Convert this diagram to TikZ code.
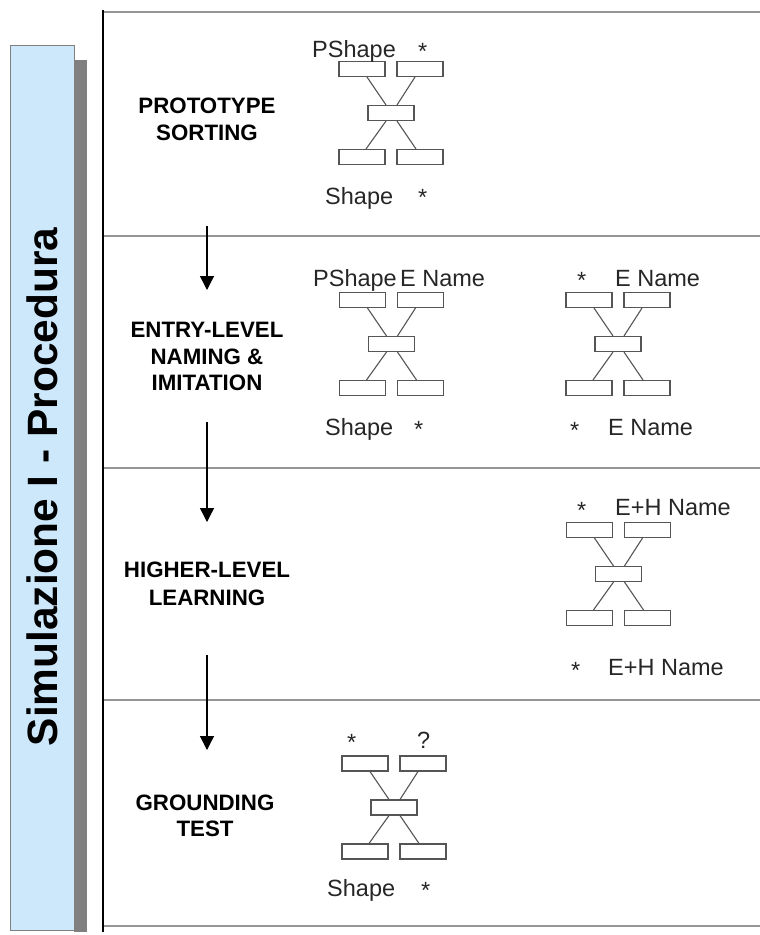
\documentclass[tikz,border=0pt]{standalone}
\usepackage{fontspec}
\setmainfont{Liberation Sans}
\usetikzlibrary{arrows.meta}
\definecolor{panelblue}{RGB}{204,232,250}
\definecolor{shadowgray}{RGB}{128,128,128}
\definecolor{ruleg}{RGB}{150,150,150}
\definecolor{boxg}{RGB}{85,85,85}
\newcommand{\xnet}[3]{%
  \node[cell] (#1tl) at (#2-29,#3) {};
  \node[cell] (#1tr) at (#2+29,#3) {};
  \node[cell] (#1c)  at (#2,#3+44) {};
  \node[cell] (#1bl) at (#2-29,#3+88) {};
  \node[cell] (#1br) at (#2+29,#3+88) {};
  \draw[link] ([xshift=5pt]#1tl.south) -- ([xshift=-5pt]#1c.north);
  \draw[link] ([xshift=-5pt]#1tr.south) -- ([xshift=6pt]#1c.north);
  \draw[link] ([xshift=-5pt]#1c.south) -- ([xshift=4pt]#1bl.north);
  \draw[link] ([xshift=6pt]#1c.south) -- ([xshift=-4pt]#1br.north);
}
\begin{document}
\begin{tikzpicture}[x=1pt,y=-1pt,
  cell/.style={draw=boxg, line width=1.1pt, minimum width=46pt, minimum height=15pt, inner sep=0pt},
  link/.style={draw=boxg, line width=1.1pt},
  lbl/.style={font=\fontsize{23.5}{28}\selectfont, inner sep=0pt, anchor=base west, text=black!85},
  stage/.style={font=\fontsize{22.3}{26}\bfseries\selectfont, inner sep=0pt, anchor=base},
  flow/.style={line width=1.3pt, -{Triangle[width=14pt,length=14pt]}},
  rule/.style={draw=ruleg, line width=2pt}]
\useasboundingbox (0,0) rectangle (760,935);

% title panel
\fill[shadowgray] (74,60) rectangle (87,932);
\draw[fill=panelblue, draw=gray, line width=0.8pt] (10,45) rectangle (74,930);
\node[rotate=90, font=\fontsize{42.4}{50}\bfseries\selectfont, inner sep=0pt] (title) at (42.5,487) {Simulazione I - Procedura};

% frame
\draw[rule] (103,12) -- (760,12);
\draw[rule] (103,236) -- (760,236);
\draw[rule] (103,468) -- (760,468);
\draw[rule] (103,700) -- (760,700);
\draw[rule] (103,926) -- (760,926);
\draw[black, line width=1.5pt] (103,10) -- (103,932);

% stage labels
\node[stage] (s1a) at (207,113) {PROTOTYPE};
\node[stage] (s1b) at (207,140.5) {SORTING};
\node[stage] (s2a) at (207,337) {ENTRY-LEVEL};
\node[stage] (s2b) at (207,364.5) {NAMING \&};
\node[stage] (s2c) at (207,390) {IMITATION};
\node[stage] (s3a) at (207,577) {HIGHER-LEVEL};
\node[stage] (s3b) at (207,605) {LEARNING};
\node[stage] (s4a) at (205,810) {GROUNDING};
\node[stage] (s4b) at (205,836) {TEST};

% flow arrows
\coordinate (a1s) at (207,226); \coordinate (a1e) at (207,290);
\coordinate (a2s) at (207,422); \coordinate (a2e) at (207,522);
\coordinate (a3s) at (207,655); \coordinate (a3e) at (207,750);
\draw[flow] (a1s) -- (a1e);
\draw[flow] (a2s) -- (a2e);
\draw[flow] (a3s) -- (a3e);

% networks
\xnet{p}{391}{69}
\xnet{e}{391.5}{300}
\xnet{f}{618}{300}
\xnet{h}{618.5}{530}
\xnet{g}{394}{763.5}

% labels row 1
\node[lbl] (l1a) at (312,57) {PShape};
\node[lbl] (l1b) at (418,59) {*};
\node[lbl] (l1c) at (325,204) {Shape};
\node[lbl] (l1d) at (418,205) {*};
% row 2 left
\node[lbl] (l2a) at (313,286) {PShape};
\node[lbl] (l2b) at (400,286) {E Name};
\node[lbl] (l2c) at (325,435) {Shape};
\node[lbl] (l2d) at (414,437) {*};
% row 2 right
\node[lbl] (l3a) at (577,288) {*};
\node[lbl] (l3b) at (615,286) {E Name};
\node[lbl] (l3c) at (570,438) {*};
\node[lbl] (l3d) at (608,435) {E Name};
% row 3
\node[lbl] (l4a) at (577,518) {*};
\node[lbl] (l4b) at (615,515) {E+H Name};
\node[lbl] (l4c) at (571,678) {*};
\node[lbl] (l4d) at (608,675) {E+H Name};
% row 4
\node[lbl] (l5a) at (347,750) {*};
\node[lbl] (l5b) at (417,748) {?};
\node[lbl] (l5c) at (327,896) {Shape};
\node[lbl] (l5d) at (421,898) {*};
\end{tikzpicture}
\end{document}
